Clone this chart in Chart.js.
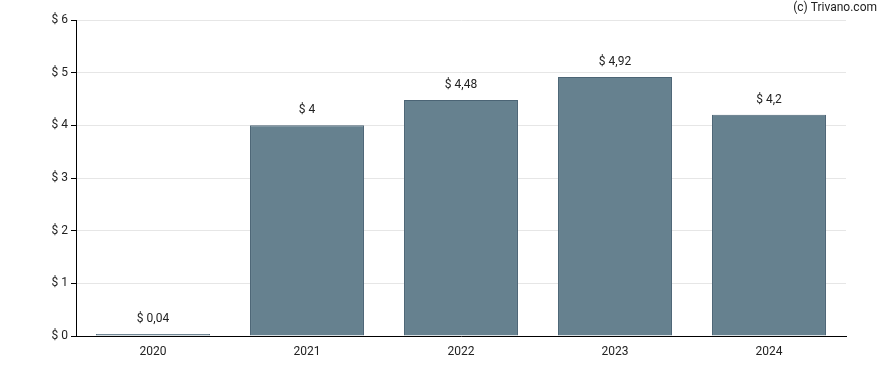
<!DOCTYPE html>
<html>
<head>
<meta charset="utf-8">
<script src="https://cdn.jsdelivr.net/npm/chart.js@4.4.0/dist/chart.umd.min.js"></script>
<style>
  html, body { margin: 0; padding: 0; background: #fff; }
  #wrap { width: 888px; height: 370px; position: relative; }
</style>
</head>
<body>
<div id="wrap"><canvas id="grafica" width="888" height="370"></canvas></div>
<script>
// datos
const jaren = ["2020", "2021", "2022", "2023", "2024"];
const dividend = [0.04, 4, 4.48, 4.92, 4.2];
const yTicks = [0, 1, 2, 3, 4, 5, 6];

function fmt(v) {
  return "$ " + String(v).replace(".", ",");
}

// etiquetas encima de las barras
const etiquetas = {
  id: "etiquetas",
  afterDatasetsDraw(chart) {
    const ctx = chart.ctx;
    const meta = chart.getDatasetMeta(0);
    ctx.save();
    ctx.font = "12px Roboto";
    ctx.fillStyle = "#222";
    ctx.textAlign = "center";
    ctx.textBaseline = "bottom";
    meta.data.forEach((bar, i) => {
      ctx.fillText(fmt(dividend[i]), bar.x, bar.y - 9);
    });
    // copyright
    ctx.font = "12px Roboto";
    ctx.textAlign = "right";
    ctx.textBaseline = "middle";
    ctx.fillText("(c) Trivano.com", 877, 8);
    ctx.restore();
  }
};

new Chart(document.getElementById("grafica").getContext("2d"), {
  type: "bar",
  data: {
    labels: jaren,
    datasets: [{
      data: dividend,
      backgroundColor: "#66818f",
      borderColor: "#4b6475",
      borderWidth: 1,
      barPercentage: 0.74,
      categoryPercentage: 1
    }]
  },
  options: {
    responsive: false,
    animation: false,
    layout: { padding: { top: 20, right: 42, bottom: 3, left: 0 } },
    plugins: { legend: { display: false }, tooltip: { enabled: false } },
    scales: {
      x: {
        grid: { display: false, drawOnChartArea: false, tickLength: 5, tickColor: "#000" },
        border: { color: "#000", width: 1 },
        ticks: { color: "#222", font: { family: "Roboto", size: 12 }, padding: 4 },
        afterFit: (s) => { s.height = 31; }
      },
      y: {
        min: 0,
        max: 6,
        afterBuildTicks: (s) => { s.ticks = yTicks.map(v => ({ value: v })); },
        grid: { color: "#e6e6e6", tickColor: "#000", tickLength: 5 },
        border: { color: "#000", width: 1 },
        ticks: { color: "#222", font: { family: "Roboto", size: 12 }, padding: 3, callback: (v) => "$ " + v },
        afterFit: (s) => { s.width = 76; }
      }
    }
  },
  plugins: [etiquetas]
});
</script>
</body>
</html>
